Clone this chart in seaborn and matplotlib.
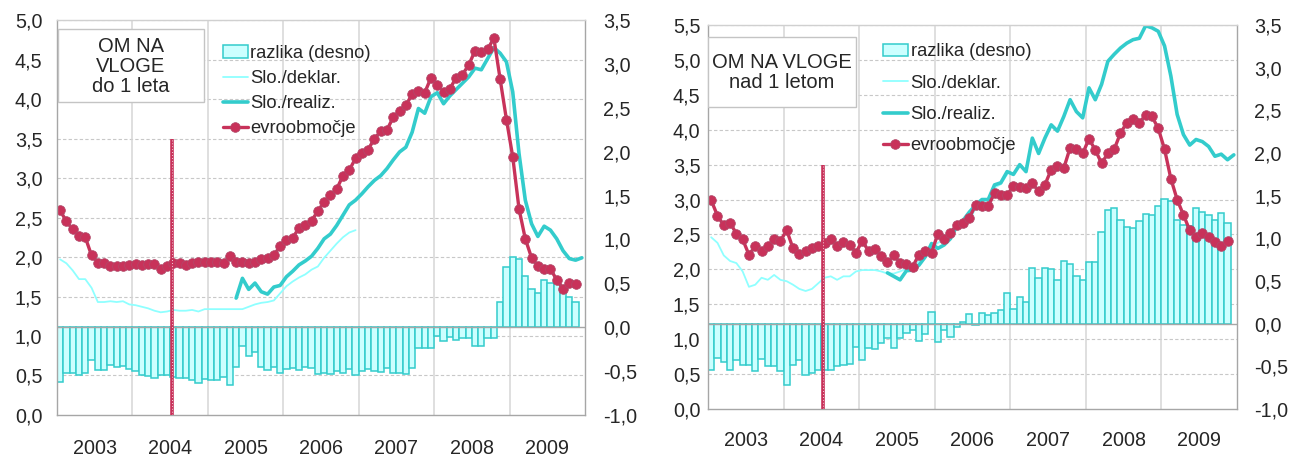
import matplotlib
matplotlib.use("Agg")
import numpy as np
import pandas as pd
import matplotlib.pyplot as plt
import seaborn as sns
from matplotlib.patches import Patch, Rectangle
from matplotlib.lines import Line2D
from matplotlib.ticker import FuncFormatter

sns.set_style("white")
plt.rcParams['font.family'] = ['Liberation Sans', 'DejaVu Sans']

# --- podatki (mesecno, jan 2003 - nov/dec 2009) ---
leta = ['2003', '2004', '2005', '2006', '2007', '2008', '2009']
oznake = ['razlika (desno)', 'Slo./deklar.', 'Slo./realiz.', 'evroobmočje']
realiz_start = 28  # maj 2005

# do 1 leta
evro_kratke = [2.59, 2.45, 2.35, 2.27, 2.25, 2.02, 1.93, 1.92, 1.88, 1.88, 1.88, 1.90,
               1.91, 1.90, 1.91, 1.91, 1.85, 1.88, 1.92, 1.92, 1.90, 1.93, 1.94, 1.94,
               1.94, 1.94, 1.92, 2.01, 1.94, 1.94, 1.92, 1.94, 1.97, 1.99, 2.02, 2.14,
               2.21, 2.24, 2.37, 2.40, 2.46, 2.58, 2.70, 2.78, 2.86, 3.03, 3.10, 3.25,
               3.32, 3.36, 3.50, 3.59, 3.61, 3.77, 3.85, 3.92, 4.06, 4.10, 4.08, 4.27,
               4.18, 4.09, 4.13, 4.27, 4.31, 4.43, 4.61, 4.59, 4.63, 4.77, 4.25, 3.74,
               3.27, 2.61, 2.23, 1.99, 1.88, 1.85, 1.85, 1.71, 1.60, 1.67, 1.66]
deklar_kratke = [1.97, 1.92, 1.83, 1.72, 1.72, 1.61, 1.43, 1.43, 1.44, 1.43, 1.44, 1.40,
                 1.39, 1.37, 1.35, 1.32, 1.30, 1.31, 1.33, 1.32, 1.32, 1.33, 1.31, 1.34,
                 1.34, 1.34, 1.34, 1.34, 1.34, 1.34, 1.37, 1.40, 1.42, 1.43, 1.45, 1.54,
                 1.63, 1.69, 1.74, 1.78, 1.84, 1.88, 1.99, 2.08, 2.17, 2.25, 2.31, 2.34]
realiz_kratke = [1.48, 1.73, 1.59, 1.67, 1.56, 1.53, 1.62, 1.64,
                 1.75, 1.82, 1.90, 1.95, 2.01, 2.11, 2.23, 2.29, 2.40, 2.53, 2.66, 2.72,
                 2.80, 2.89, 2.97, 3.03, 3.12, 3.23, 3.33, 3.39, 3.58, 3.88, 3.82, 4.03,
                 4.08, 3.94, 4.04, 4.12, 4.20, 4.28, 4.39, 4.37, 4.51, 4.65, 4.58, 4.47,
                 4.09, 3.31, 2.72, 2.42, 2.26, 2.39, 2.34, 2.23, 2.08, 1.98, 1.96, 1.99]
razlika_kratke = [-0.62, -0.52, -0.52, -0.54, -0.52, -0.37, -0.49, -0.49, -0.43, -0.45, -0.44, -0.48,
                  -0.50, -0.54, -0.56, -0.58, -0.55, -0.55, -0.57, -0.58, -0.58, -0.60, -0.64, -0.59,
                  -0.60, -0.60, -0.57, -0.66, -0.45, -0.21, -0.33, -0.28, -0.45, -0.49, -0.45, -0.52,
                  -0.48, -0.46, -0.49, -0.45, -0.46, -0.53, -0.52, -0.53, -0.50, -0.52, -0.48, -0.54,
                  -0.50, -0.48, -0.50, -0.51, -0.47, -0.52, -0.52, -0.53, -0.47, -0.24, -0.24, -0.24,
                  -0.10, -0.16, -0.11, -0.14, -0.12, -0.12, -0.21, -0.21, -0.12, -0.12, 0.29, 0.69,
                  0.80, 0.78, 0.58, 0.43, 0.39, 0.54, 0.50, 0.50, 0.47, 0.35, 0.29]

# nad 1 letom
evro_dolge = [2.99, 2.77, 2.63, 2.67, 2.51, 2.43, 2.21, 2.33, 2.27, 2.34, 2.43, 2.41,
              2.56, 2.30, 2.22, 2.27, 2.30, 2.33, 2.38, 2.43, 2.34, 2.39, 2.35, 2.24,
              2.41, 2.26, 2.29, 2.19, 2.10, 2.20, 2.09, 2.08, 2.04, 2.21, 2.26, 2.24,
              2.51, 2.44, 2.52, 2.64, 2.67, 2.74, 2.92, 2.91, 2.91, 3.09, 3.07, 3.06,
              3.20, 3.18, 3.17, 3.23, 3.12, 3.21, 3.43, 3.48, 3.45, 3.74, 3.72, 3.66,
              3.87, 3.71, 3.52, 3.66, 3.72, 3.95, 4.10, 4.15, 4.10, 4.21, 4.19, 4.02,
              3.72, 3.30, 3.00, 2.78, 2.56, 2.47, 2.52, 2.47, 2.39, 2.33, 2.40]
deklar_dolge = [2.46, 2.38, 2.20, 2.12, 2.09, 1.97, 1.75, 1.78, 1.88, 1.85, 1.92, 1.85,
                1.83, 1.78, 1.72, 1.69, 1.72, 1.80, 1.88, 1.90, 1.85, 1.90, 1.90, 1.97,
                1.99, 1.99, 1.99, 1.97, 1.94, 1.94, 1.97, 2.01, 2.03, 2.12, 2.24, 2.31,
                2.38, 2.43, 2.47, 2.57, 2.64, 2.69, 2.88, 2.96, 3.00, 3.17, 3.22, 3.36]
realiz_dolge = [1.95, 1.90, 1.85, 1.98, 1.99, 2.06, 2.18, 2.37,
                2.30, 2.35, 2.44, 2.63, 2.70, 2.82, 2.92, 3.00, 3.00, 3.21, 3.24, 3.40,
                3.36, 3.50, 3.40, 3.88, 3.66, 3.88, 4.07, 3.98, 4.19, 4.43, 4.26, 4.17,
                4.60, 4.43, 4.65, 4.98, 5.08, 5.17, 5.24, 5.29, 5.31, 5.49, 5.46, 5.41,
                5.20, 4.77, 4.22, 3.93, 3.78, 3.86, 3.83, 3.76, 3.62, 3.65, 3.57, 3.64]
razlika_dolge = [-0.54, -0.40, -0.45, -0.54, -0.42, -0.48, -0.48, -0.55, -0.41, -0.50, -0.50, -0.55,
                 -0.72, -0.48, -0.43, -0.60, -0.58, -0.54, -0.54, -0.54, -0.50, -0.48, -0.47, -0.27,
                 -0.43, -0.29, -0.30, -0.23, -0.17, -0.29, -0.17, -0.11, -0.07, -0.20, -0.12, 0.14,
                 -0.21, -0.07, -0.16, -0.04, 0.02, 0.11, -0.02, 0.12, 0.10, 0.13, 0.16, 0.36,
                 0.17, 0.31, 0.25, 0.65, 0.53, 0.65, 0.64, 0.51, 0.74, 0.70, 0.56, 0.51,
                 0.72, 0.72, 1.08, 1.33, 1.36, 1.22, 1.13, 1.12, 1.20, 1.28, 1.27, 1.38,
                 1.46, 1.44, 1.22, 1.16, 1.14, 1.36, 1.31, 1.27, 1.22, 1.30, 1.18]

# --- barve ---
c_fill = '#CCFFFF'
c_edge = '#33CCCC'
c_deklar = '#8FFFFF'
c_realiz = '#33CCCC'
c_evro = '#C8325A'
c_grid = '#C8C8C8'
c_spine = '#A6A6A6'

erm_x = 17.8  # navpicna crta (sredina 2004)


def vejica(v, pos):
    return f"{v:.1f}".replace('.', ',')


def panel(rect, naslov, evro, deklar, realiz, razlika, ltop, box, txt_xy,
          leg_xy, leg_sp, lpad, rpad, xpad):
    ax = fig.add_axes(rect)
    ax2 = ax.twinx()
    ax.set_zorder(ax2.get_zorder() + 1)
    ax.patch.set_visible(False)
    ax2.patch.set_visible(True)
    ax2.patch.set_facecolor('white')

    # stolpci - razlika (desna os)
    df_bar = pd.DataFrame({'mesec': np.arange(len(razlika)), 'razlika': razlika})
    sns.barplot(data=df_bar, x='mesec', y='razlika', native_scale=True, width=1,
                color=c_fill, edgecolor=c_edge, linewidth=1.1, saturation=1,
                errorbar=None, ax=ax2, zorder=2)
    ax2.set_ylim(-1, 3.5)
    ax2.set_yticks(np.arange(-1, 3.51, 0.5))

    # mreza na spodnji osi, da jo stolpci prekrijejo
    k = 4.5 / ltop
    for v in np.arange(0.5, ltop + 0.01, 0.5):
        ax2.axhline(-1 + v * k, color=c_grid, lw=0.8, ls=(0, (3, 2)), zorder=0)
    for j in range(1, 7):
        ax2.axvline(12 * j - 0.5, color='#D6D6D6', lw=1.1, zorder=0)
    ax2.axhline(0, color=c_spine, lw=1.0, zorder=3)

    # crte (leva os)
    sns.lineplot(x=np.arange(len(deklar)), y=deklar, color=c_deklar, lw=1.3, ax=ax)
    sns.lineplot(x=np.arange(realiz_start, realiz_start + len(realiz)), y=realiz,
                 color=c_realiz, lw=2.6, ax=ax)
    sns.lineplot(x=np.arange(len(evro)), y=evro, color=c_evro, lw=2.4, marker='o',
                 markersize=7, markeredgecolor='#B04A6A', markeredgewidth=0.5, ax=ax)
    ax.plot([erm_x, erm_x], [0, 3.5], color=c_evro, lw=2.6, solid_capstyle='butt', zorder=4)
    ax.plot([erm_x, erm_x], [0, 3.5], color='white', lw=0.6, ls=(0, (1, 2.5)), zorder=4)

    ax.set_ylim(0, ltop)
    ax.set_yticks(np.arange(0, ltop + 0.01, 0.5))
    ax.set_xlim(-0.5, 83.5)
    ax.set_xticks([5.5 + 12 * j for j in range(7)])
    ax.set_xticklabels(leta)
    ax.yaxis.set_major_formatter(FuncFormatter(vejica))
    ax2.yaxis.set_major_formatter(FuncFormatter(vejica))
    ax.set_xlabel('')
    ax.set_ylabel('')
    ax2.set_xlabel('')
    ax2.set_ylabel('')
    ax.tick_params(axis='x', length=0, pad=xpad, labelsize=14.2)
    ax.tick_params(axis='y', length=0, pad=lpad, labelsize=14.2)
    ax2.tick_params(axis='y', length=0, pad=rpad, labelsize=14.2)

    for s in ax2.spines.values():
        s.set_visible(False)
    for name, s in ax.spines.items():
        s.set_color('#D0D0D0' if name == 'top' else c_spine)
        s.set_linewidth(1.0)

    # okvir z naslovom
    ax.add_patch(Rectangle((box[0], box[1]), box[2], box[3], transform=ax.transAxes,
                           facecolor='white', edgecolor='#C4C4C4', lw=1.0, zorder=5))
    ax.text(txt_xy[0], txt_xy[1], naslov, transform=ax.transAxes, ha='center',
            va='center', fontsize=14.5, linespacing=1.08, zorder=6)

    rocice = [Patch(facecolor=c_fill, edgecolor=c_edge, lw=1.1),
              Line2D([], [], color=c_deklar, lw=1.3),
              Line2D([], [], color=c_realiz, lw=2.6),
              Line2D([], [], color=c_evro, lw=2.4, marker='o', markersize=7,
                     markeredgecolor='#B04A6A', markeredgewidth=0.5)]
    leg = ax.legend(rocice, oznake, loc='upper left', bbox_to_anchor=leg_xy,
                    frameon=False, fontsize=13.2, handlelength=1.35, handletextpad=0.15,
                    labelspacing=leg_sp, borderaxespad=0, borderpad=0)
    leg.set_zorder(7)
    return ax, ax2


fig = plt.figure(figsize=(12.92, 4.58), dpi=100)

panel([0.0441, 0.0939, 0.4087, 0.8624], 'OM NA\nVLOGE\ndo 1 leta',
      evro_kratke, deklar_kratke, realiz_kratke, razlika_kratke, 5.0,
      (0.002, 0.792, 0.276, 0.185), (0.140, 0.882),
      (0.314, 0.937), 0.44, 10.5, 13.2, 17.5)

panel([0.548, 0.107, 0.4094, 0.8384], 'OM NA VLOGE\nnad 1 letom',
      evro_dolge, deklar_dolge, realiz_dolge, razlika_dolge, 5.5,
      (0.0, 0.786, 0.280, 0.183), (0.139, 0.876),
      (0.331, 0.952), 0.78, 5.5, 12.5, 16)

fig.savefig('out.png', dpi=100)
